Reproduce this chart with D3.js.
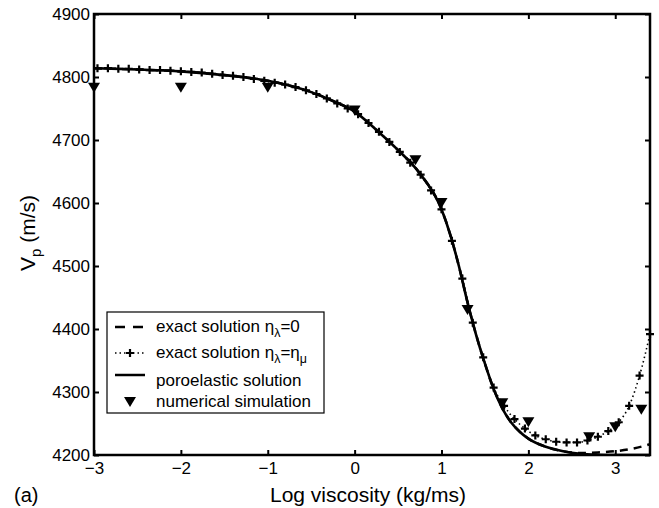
<!DOCTYPE html>
<html>
<head>
<meta charset="utf-8">
<script src="https://cdn.jsdelivr.net/npm/d3@7.9.0/dist/d3.min.js"></script>
<style>
  body { margin: 0; background: #fff; }
  svg { display: block; font-family: "Liberation Sans", Arial, Helvetica, sans-serif; }
</style>
</head>
<body>
<svg id="chart" width="659" height="508"></svg>
<script>
// x ticks / y ticks
const xTicks = [-3, -2, -1, 0, 1, 2, 3];
const yTicks = [4200, 4300, 4400, 4500, 4600, 4700, 4800, 4900];

// poroelastic solution and exact solution eta_lambda = 0 (same x grid)
const curveX = [-3, -2.5, -2, -1.5, -1, -0.5, -0.25, 0, 0.25, 0.5, 0.75, 1.0, 1.1, 1.2, 1.3, 1.4, 1.5, 1.6, 1.7, 1.8, 1.9, 2.0, 2.2, 2.4, 2.6, 2.8, 3.0, 3.2, 3.4];
const poroV  = [4814, 4812, 4809, 4803, 4794, 4776, 4762, 4745, 4716, 4684, 4647, 4590, 4550, 4500, 4442, 4390, 4345, 4305, 4274, 4252, 4237, 4226, 4213, 4206, 4202, 4200.5, 4200, 4200, 4200];
const exact0V = [4814, 4812, 4809, 4803, 4794, 4776, 4762, 4745, 4716, 4684, 4647, 4590, 4550, 4500, 4442, 4390, 4345, 4305, 4274, 4252, 4237, 4226, 4213, 4206, 4203, 4204, 4206, 4210, 4217];

// exact solution eta_lambda = eta_mu (line with + markers)
const crossX = [-2.96, -2.84, -2.72, -2.60, -2.48, -2.36, -2.24, -2.12, -2.00, -1.88, -1.76, -1.64, -1.52, -1.40, -1.28, -1.16, -1.04, -0.92, -0.80, -0.68, -0.56, -0.44, -0.32, -0.20, -0.08, 0.04, 0.16, 0.28, 0.40, 0.52, 0.64, 0.76, 0.88, 1.00, 1.12, 1.24, 1.36, 1.48, 1.60, 1.72, 1.84, 1.96, 2.08, 2.20, 2.32, 2.44, 2.56, 2.68, 2.80, 2.92, 3.04, 3.16, 3.28, 3.40];
const exactMuV = [4814, 4814, 4813, 4813, 4812, 4811, 4811, 4810, 4809, 4808, 4807, 4805, 4803, 4802, 4800, 4797, 4794, 4791, 4788, 4784, 4779, 4773, 4766, 4758, 4750, 4741, 4727, 4713, 4697, 4681, 4664, 4645, 4620, 4590, 4540, 4480, 4410, 4355, 4307, 4278, 4257, 4242, 4231, 4225, 4221, 4220, 4220, 4223, 4229, 4238, 4252, 4278, 4326, 4392];

// numerical simulation
const simX = [-3, -2, -1, 0, 0.7, 1.0, 1.3, 1.7, 2.0, 2.7, 3.0, 3.3];
const simV = [4783, 4783, 4783, 4747, 4668, 4600, 4430, 4282, 4252, 4228, 4244, 4272];

const svg = d3.select('#chart');
const plotLeft = 94, plotRight = 650, plotTop = 14, plotBottom = 455;

const x = d3.scaleLinear().domain([-3, 3.4]).range([plotLeft, plotRight]);
const y = d3.scaleLinear().domain([4200, 4900]).range([plotBottom, plotTop]);

svg.append('clipPath').attr('id', 'clip')
  .append('rect').attr('x', plotLeft).attr('y', plotTop)
  .attr('width', plotRight - plotLeft).attr('height', plotBottom - plotTop);

const line = d3.line()
  .x(d => x(d[0]))
  .y(d => y(d[1]))
  .curve(d3.curveMonotoneX);

const plot = svg.append('g').attr('clip-path', 'url(#clip)');

// dashed: eta_lambda = 0
plot.append('path')
  .attr('d', line(d3.zip(curveX, exact0V)))
  .attr('fill', 'none').attr('stroke', '#000')
  .attr('stroke-width', 2.5).attr('stroke-dasharray', '8,6');

// dotted: eta_lambda = eta_mu
plot.append('path')
  .attr('d', line(d3.zip(crossX, exactMuV)))
  .attr('fill', 'none').attr('stroke', '#000')
  .attr('stroke-width', 1.6).attr('stroke-dasharray', '1.5,3');

// solid: poroelastic
plot.append('path')
  .attr('d', line(d3.zip(curveX, poroV)))
  .attr('fill', 'none').attr('stroke', '#000')
  .attr('stroke-width', 2.6);

const crossPath = 'M-4,0H4M0,-4V4';
const triPath = 'M-6,-5L6,-5L0,5Z';

svg.append('g').selectAll('path')
  .data(d3.zip(crossX, exactMuV))
  .join('path')
  .attr('transform', d => `translate(${x(d[0])},${y(d[1])})`)
  .attr('d', crossPath)
  .attr('stroke', '#000').attr('stroke-width', 2.2).attr('fill', 'none');

svg.append('g').selectAll('path')
  .data(d3.zip(simX, simV))
  .join('path')
  .attr('transform', d => `translate(${x(d[0])},${y(d[1])})`)
  .attr('d', triPath)
  .attr('fill', '#000');

// axes, ticks pointing inward
const fmt = d3.format('d');
const gx = svg.append('g').attr('transform', `translate(0,${plotBottom})`)
  .call(d3.axisBottom(x).tickValues(xTicks).tickFormat(fmt).tickSizeInner(-5).tickSizeOuter(0).tickPadding(7));
const gy = svg.append('g').attr('transform', `translate(${plotLeft},0)`)
  .call(d3.axisLeft(y).tickValues(yTicks).tickFormat(fmt).tickSizeInner(-5).tickSizeOuter(0).tickPadding(4));
const gt = svg.append('g').attr('transform', `translate(0,${plotTop})`)
  .call(d3.axisTop(x).tickValues(xTicks).tickFormat('').tickSizeInner(-5).tickSizeOuter(0));
const gr = svg.append('g').attr('transform', `translate(${plotRight},0)`)
  .call(d3.axisRight(y).tickValues(yTicks).tickFormat('').tickSizeInner(-5).tickSizeOuter(0));

[gx, gy, gt, gr].forEach(g => {
  g.select('.domain').remove();
  g.attr('font-family', null).attr('font-size', null);
  g.selectAll('line').attr('stroke', '#000').attr('stroke-width', 2);
  g.selectAll('text').attr('fill', '#000').style('font-size', '17px');
});

svg.append('rect')
  .attr('x', plotLeft).attr('y', plotTop)
  .attr('width', plotRight - plotLeft).attr('height', plotBottom - plotTop)
  .attr('fill', 'none').attr('stroke', '#000').attr('stroke-width', 2.5);

// axis titles
svg.append('text')
  .attr('x', 368).attr('y', 502)
  .attr('text-anchor', 'middle')
  .style('font-size', '21px')
  .text('Log viscosity (kg/ms)');

svg.append('text')
  .attr('x', 14).attr('y', 502)
  .style('font-size', '20px')
  .text('(a)');

const yt = svg.append('text')
  .attr('transform', 'translate(35,233) rotate(-90)')
  .attr('text-anchor', 'middle')
  .style('font-size', '21px');
yt.append('tspan').text('V');
yt.append('tspan').attr('dy', 6).style('font-size', '15px').text('p');
yt.append('tspan').attr('dy', -6).text(' (m/s)');

// legend
const lg = svg.append('g');
lg.append('rect')
  .attr('x', 107).attr('y', 312).attr('width', 217).attr('height', 101)
  .attr('fill', '#fff').attr('stroke', '#000').attr('stroke-width', 1.2);

const sx0 = 115, sx1 = 145, tx = 156;

lg.append('line').attr('x1', sx0).attr('x2', sx1).attr('y1', 327).attr('y2', 327)
  .attr('stroke', '#000').attr('stroke-width', 2.5).attr('stroke-dasharray', '10,8');
lg.append('line').attr('x1', sx0).attr('x2', sx1).attr('y1', 353).attr('y2', 353)
  .attr('stroke', '#000').attr('stroke-width', 1.6).attr('stroke-dasharray', '1.5,3');
lg.append('path').attr('transform', 'translate(130,353)').attr('d', crossPath)
  .attr('stroke', '#000').attr('stroke-width', 2.2);
lg.append('line').attr('x1', sx0).attr('x2', sx1).attr('y1', 375).attr('y2', 375)
  .attr('stroke', '#000').attr('stroke-width', 2.5);
lg.append('path').attr('transform', 'translate(130,402)').attr('d', triPath).attr('fill', '#000');

const t1 = lg.append('text').attr('x', tx).attr('y', 332).style('font-size', '17px');
t1.append('tspan').text('exact solution η');
t1.append('tspan').attr('dy', 5).style('font-size', '12.5px').text('λ');
t1.append('tspan').attr('dy', -5).text('=0');

const t2 = lg.append('text').attr('x', tx).attr('y', 358).style('font-size', '17px');
t2.append('tspan').text('exact solution η');
t2.append('tspan').attr('dy', 5).style('font-size', '12.5px').text('λ');
t2.append('tspan').attr('dy', -5).text('=η');
t2.append('tspan').attr('dy', 5).style('font-size', '12.5px').text('μ');

lg.append('text').attr('x', tx).attr('y', 386).style('font-size', '17px').text('poroelastic solution');
lg.append('text').attr('x', tx).attr('y', 407).style('font-size', '17px').text('numerical simulation');
</script>
</body>
</html>
